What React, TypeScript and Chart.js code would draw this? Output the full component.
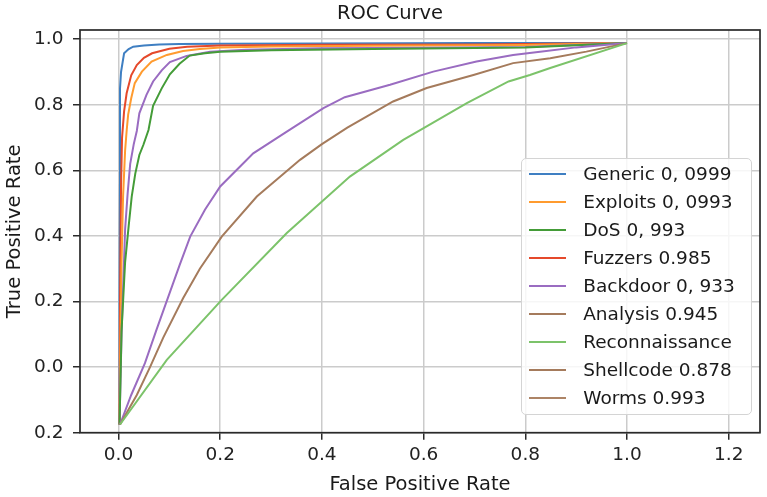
import { useEffect, useRef } from "react";
import { Chart, registerables } from "chart.js";

Chart.register(...registerables);

// Axis ticks and their printed labels
const xTicks = [0, 0.2, 0.4, 0.6, 0.8, 1.0, 1.2];
const xTickLabels = ["0.0", "0.2", "0.4", "0.6", "0.8", "1.0", "1.2"];
const yTicks = [-0.2, 0, 0.2, 0.4, 0.6, 0.8, 1.0];
const yTickLabels = ["0.2", "0.0", "0.2", "0.4", "0.6", "0.8", "1.0"];

// Legend entries
const legendLabels = [
  "Generic 0, 0999",
  "Exploits 0, 0993",
  "DoS 0, 993",
  "Fuzzers 0.985",
  "Backdoor 0, 933",
  "Analysis 0.945",
  "Reconnaissance",
  "Shellcode 0.878",
  "Worms 0.993",
];
const legendColors = [
  "#3f7fc2",
  "#ff9b2f",
  "#449c38",
  "#e5492b",
  "#9a6cc1",
  "#a57b5c",
  "#7cc36a",
  "#a57b5c",
  "#ad8466",
];

// ROC curves: false positive rate / true positive rate pairs
const genericFpr = [0.002, 0.002, 0.003, 0.003, 0.005, 0.011, 0.02, 0.029, 0.05, 0.08, 0.12, 0.2, 0.4, 0.7, 1.0];
const genericTpr = [-0.175, 0.2, 0.6, 0.85, 0.9, 0.957, 0.97, 0.977, 0.981, 0.984, 0.985, 0.986, 0.987, 0.988, 0.988];

const fuzzersFpr = [0.002, 0.003, 0.005, 0.007, 0.011, 0.016, 0.025, 0.036, 0.05, 0.066, 0.1, 0.135, 0.2, 0.4, 0.7, 1.0];
const fuzzersTpr = [-0.175, 0.2, 0.55, 0.7, 0.78, 0.835, 0.89, 0.921, 0.943, 0.957, 0.971, 0.977, 0.981, 0.983, 0.984, 0.988];

const exploitsFpr = [0.002, 0.004, 0.006, 0.009, 0.013, 0.016, 0.019, 0.025, 0.032, 0.046, 0.065, 0.095, 0.127, 0.16, 0.2, 0.3, 0.5, 0.8, 1.0];
const exploitsTpr = [-0.175, 0.1, 0.32, 0.52, 0.66, 0.72, 0.77, 0.82, 0.866, 0.901, 0.932, 0.952, 0.964, 0.97, 0.975, 0.978, 0.98, 0.982, 0.988];

const backdoorFpr = [0.002, 0.006, 0.013, 0.018, 0.023, 0.03, 0.036, 0.041, 0.055, 0.068, 0.085, 0.101, 0.134, 0.18, 0.25, 0.4, 0.6, 0.8, 1.0];
const backdoorTpr = [-0.175, 0.1, 0.42, 0.53, 0.62, 0.68, 0.72, 0.774, 0.83, 0.871, 0.905, 0.93, 0.949, 0.962, 0.968, 0.972, 0.974, 0.976, 0.988];

const dosFpr = [0.002, 0.006, 0.013, 0.02, 0.026, 0.033, 0.041, 0.049, 0.059, 0.068, 0.085, 0.101, 0.12, 0.14, 0.17, 0.2, 0.3, 0.5, 0.8, 1.0];
const dosTpr = [-0.175, 0.11, 0.32, 0.43, 0.52, 0.59, 0.647, 0.678, 0.723, 0.797, 0.85, 0.893, 0.925, 0.95, 0.957, 0.962, 0.966, 0.97, 0.975, 0.988];

const wormsFpr = [0.003, 0.025, 0.052, 0.075, 0.098, 0.12, 0.141, 0.17, 0.2, 0.265, 0.331, 0.403, 0.445, 0.534, 0.619, 0.704, 0.776, 0.829, 0.9, 1.0];
const wormsTpr = [-0.175, -0.085, 0.012, 0.115, 0.215, 0.31, 0.398, 0.48, 0.551, 0.652, 0.718, 0.79, 0.823, 0.861, 0.901, 0.932, 0.952, 0.962, 0.975, 0.988];

const analysisFpr = [0.003, 0.036, 0.062, 0.088, 0.127, 0.16, 0.203, 0.272, 0.357, 0.4, 0.45, 0.54, 0.606, 0.698, 0.776, 0.849, 0.92, 1.0];
const analysisTpr = [-0.175, -0.085, 0.0, 0.09, 0.21, 0.3, 0.398, 0.52, 0.632, 0.68, 0.73, 0.81, 0.851, 0.891, 0.927, 0.942, 0.962, 0.988];

const reconFpr = [0.003, 0.095, 0.203, 0.331, 0.455, 0.56, 0.606, 0.685, 0.767, 0.809, 0.849, 1.0];
const reconTpr = [-0.175, 0.022, 0.205, 0.409, 0.581, 0.693, 0.734, 0.805, 0.871, 0.891, 0.912, 0.988];

const curves = [
  { label: "Reconnaissance", fpr: reconFpr, tpr: reconTpr, color: "#7cc36a" },
  { label: "Analysis", fpr: analysisFpr, tpr: analysisTpr, color: "#a57b5c" },
  { label: "Worms", fpr: wormsFpr, tpr: wormsTpr, color: "#9a6cc1" },
  { label: "DoS", fpr: dosFpr, tpr: dosTpr, color: "#449c38" },
  { label: "Backdoor", fpr: backdoorFpr, tpr: backdoorTpr, color: "#9a6cc1" },
  { label: "Exploits", fpr: exploitsFpr, tpr: exploitsTpr, color: "#ff9b2f" },
  { label: "Fuzzers", fpr: fuzzersFpr, tpr: fuzzersTpr, color: "#e5492b" },
  { label: "Generic", fpr: genericFpr, tpr: genericTpr, color: "#3f7fc2" },
];

const FONT = "'DejaVu Sans', 'Liberation Sans', sans-serif";
const WIDTH = 767;
const HEIGHT = 497;

// Draws the four axes spines around the plot area
const frame = {
  id: "frame",
  afterDatasetsDraw(chart: any) {
    const { ctx, chartArea } = chart;
    ctx.save();
    ctx.strokeStyle = "#2a2a2a";
    ctx.lineWidth = 1.7;
    ctx.strokeRect(chartArea.left, chartArea.top, chartArea.right - chartArea.left, chartArea.bottom - chartArea.top);
    ctx.restore();
  },
};

export default function App() {
  const canvasRef = useRef<HTMLCanvasElement | null>(null);

  useEffect(() => {
    if (!canvasRef.current) return;
    const chart = new Chart(canvasRef.current, {
      type: "scatter",
      data: {
        datasets: curves.map((c) => ({
          label: c.label,
          data: c.fpr.map((x, i) => ({ x, y: c.tpr[i] })),
          showLine: true,
          borderColor: c.color,
          backgroundColor: c.color,
          borderWidth: 2,
          pointRadius: 0,
          tension: 0,
          fill: false,
        })),
      },
      options: {
        responsive: false,
        animation: false,
        events: [],
        layout: { padding: { left: 0, right: 7, top: 30, bottom: 0 } },
        plugins: {
          legend: { display: false },
          tooltip: { enabled: false },
        },
        scales: {
          x: {
            type: "linear",
            min: -0.0757,
            max: 1.2615,
            afterBuildTicks: (s: any) => {
              s.ticks = xTicks.map((v) => ({ value: v }));
            },
            afterFit: (s: any) => {
              s.height = 64.3;
            },
            ticks: {
              color: "#222222",
              font: { family: FONT, size: 18.5 },
              padding: 4,
              maxRotation: 0,
              autoSkip: false,
              callback: (_v: any, i: number) => xTickLabels[i],
            },
            grid: {
              color: "#cbcbcb",
              lineWidth: 1.5,
              tickLength: 7,
              tickColor: "#2a2a2a",
              tickWidth: 1.5,
            },
            border: { display: false },
            title: {
              display: true,
              text: "False Positive Rate",
              color: "#1a1a1a",
              font: { family: FONT, size: 19.5 },
              padding: { top: 3, bottom: 0 },
            },
          },
          y: {
            type: "linear",
            min: -0.2,
            max: 1.028,
            afterBuildTicks: (s: any) => {
              s.ticks = yTicks.map((v) => ({ value: v }));
            },
            afterFit: (s: any) => {
              s.width = 80;
            },
            ticks: {
              color: "#222222",
              font: { family: FONT, size: 18.5 },
              padding: 9.5,
              autoSkip: false,
              callback: (_v: any, i: number) => yTickLabels[i],
            },
            grid: {
              color: "#cbcbcb",
              lineWidth: 1.5,
              tickLength: 7,
              tickColor: "#2a2a2a",
              tickWidth: 1.5,
            },
            border: { display: false },
            title: {
              display: true,
              text: "True Positive Rate",
              color: "#1a1a1a",
              font: { family: FONT, size: 19.5 },
              padding: { top: 3, bottom: 0 },
            },
          },
        },
      },
      plugins: [frame],
    });
    return () => chart.destroy();
  }, []);

  return (
    <div style={{ position: "absolute", left: 0, top: 0, width: WIDTH, height: HEIGHT, background: "#fff" }}>
      <canvas ref={canvasRef} width={WIDTH} height={HEIGHT} style={{ display: "block" }} />
      <div
        style={{
          position: "absolute",
          left: 290,
          top: 0,
          width: 200,
          height: 26,
          lineHeight: "26px",
          textAlign: "center",
          fontFamily: FONT,
          fontSize: 19.5,
          color: "#1a1a1a",
        }}
      >
        ROC Curve
      </div>
      <div
        style={{
          position: "absolute",
          left: 520.7,
          top: 158.3,
          width: 231,
          height: 256.7,
          boxSizing: "border-box",
          border: "1.3px solid #d4d4d4",
          borderRadius: 5,
          background: "rgba(255,255,255,0.82)",
          fontFamily: FONT,
        }}
      >
        {legendLabels.map((label, i) => (
          <div
            key={label}
            style={{ position: "absolute", left: 0, top: 1 + 28 * i, height: 28, width: "100%" }}
          >
            <div
              style={{
                position: "absolute",
                left: 7,
                top: 13,
                width: 37.5,
                height: 2,
                background: legendColors[i],
              }}
            />
            <div
              style={{
                position: "absolute",
                left: 61.5,
                top: 0,
                lineHeight: "28px",
                fontSize: 18.5,
                color: "#1a1a1a",
                whiteSpace: "nowrap",
              }}
            >
              {label}
            </div>
          </div>
        ))}
      </div>
    </div>
  );
}
